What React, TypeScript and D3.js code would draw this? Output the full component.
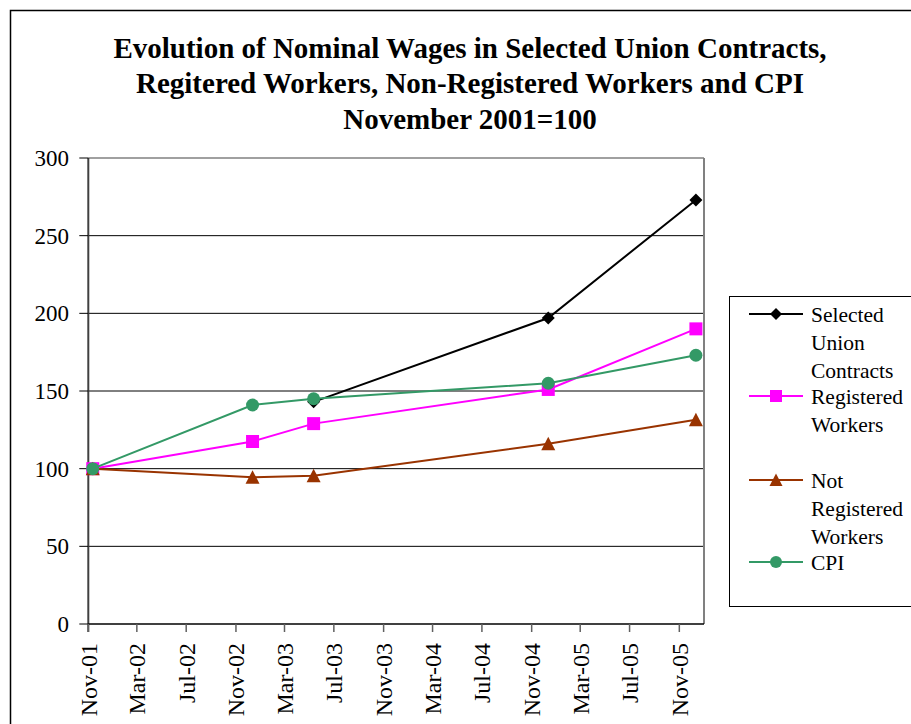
import React from "react";
import * as d3 from "d3";

const titleLines = [
  "Evolution of Nominal Wages in Selected Union Contracts,",
  "Regitered Workers, Non-Registered Workers and CPI",
  "November 2001=100",
];

const pointDates = ["2001-11-12", "2002-12-12", "2003-05-12", "2004-12-12", "2005-12-12"];
const unionValues: (number | null)[] = [null, null, 143, 197, 273];
const registeredValues: (number | null)[] = [100, 117.5, 129, 151, 190];
const notRegisteredValues: (number | null)[] = [100, 94.5, 95.5, 116, 131.5];
const cpiValues: (number | null)[] = [100, 141, 145, 155, 173];

const xTickLabels = [
  "Nov-01", "Mar-02", "Jul-02", "Nov-02", "Mar-03", "Jul-03", "Nov-03",
  "Mar-04", "Jul-04", "Nov-04", "Mar-05", "Jul-05", "Nov-05",
];
const yTicks = [0, 50, 100, 150, 200, 250, 300];

const seriesNames = [
  ["Selected", "Union", "Contracts"],
  ["Registered", "Workers"],
  ["Not", "Registered", "Workers"],
  ["CPI"],
];
const seriesColors = ["#000000", "#FF00FF", "#993300", "#339966"];
const seriesMarkers = ["diamond", "square", "triangle", "circle"];
const seriesValues = [unionValues, registeredValues, notRegisteredValues, cpiValues];

const FONT = "Liberation Serif, Tinos, Times New Roman, Times, DejaVu Serif, serif";

function markerPath(type: string, s: number): string {
  if (type === "diamond") return `M0,${-s}L${s},0L0,${s}L${-s},0Z`;
  if (type === "square") return `M${-s},${-s}H${s}V${s}H${-s}Z`;
  if (type === "triangle") return `M0,${-s - 0.5}L${s + 0.5},${s}L${-s - 0.5},${s}Z`;
  return d3.symbol(d3.symbolCircle, Math.PI * s * s)() || "";
}

export default function App() {
  const parse = d3.timeParse("%Y-%m-%d");
  const parseTick = d3.timeParse("%b-%y");
  const dates = pointDates.map((d) => parse(d) as Date);
  const tickDates = xTickLabels.map((t) => parseTick(t) as Date);

  const left = 88.3;
  const right = 704;
  const top = 158;
  const bottom = 624;

  const x = d3
    .scaleTime()
    .domain([new Date(2001, 10, 1), new Date(2006, 0, 1)])
    .range([left, right]);
  const y = d3.scaleLinear().domain([0, 300]).range([bottom, top]);

  const line = d3
    .line<[Date, number | null]>()
    .defined((d) => d[1] !== null)
    .x((d) => x(d[0]))
    .y((d) => y(d[1] as number));

  const legendX = 749;
  const legendRows = [314, 396, 480, 562];

  return (
    <svg
      width={911}
      height={724}
      style={{ position: "absolute", left: 0, top: 0, background: "#fff", fontFamily: FONT }}
    >
      <rect x={0} y={0} width={911} height={724} fill="#fff" />
      <rect x={10.5} y={10.5} width={910} height={730} fill="none" stroke="#000" strokeWidth={1.5} />

      {titleLines.map((t, i) => (
        <text
          key={i}
          x={470}
          y={57.5 + i * 35.5}
          textAnchor="middle"
          style={{ fontFamily: FONT }}
          fontWeight="bold"
          fontSize={29}
        >
          {t}
        </text>
      ))}

      {yTicks.filter((v) => v > 0 && v < 300).map((v) => (
        <line key={v} x1={left} x2={right} y1={y(v)} y2={y(v)} stroke="#000" strokeWidth={1} />
      ))}
      <line x1={left} x2={right} y1={top} y2={top} stroke="#808080" strokeWidth={1.5} />
      <line x1={right} x2={right} y1={top} y2={bottom} stroke="#808080" strokeWidth={2} />

      <line x1={left} x2={left} y1={top} y2={bottom + 8} stroke="#404040" strokeWidth={2} />
      {yTicks.map((v) => (
        <g key={v}>
          <line x1={left - 9} x2={left} y1={y(v)} y2={y(v)} stroke="#000" strokeWidth={1} />
          <text
            x={69}
            y={y(v)}
            dy="0.35em"
            textAnchor="end"
            style={{ fontFamily: FONT }}
            fontSize={23}
          >
            {v}
          </text>
        </g>
      ))}

      <line x1={left} x2={right} y1={bottom} y2={bottom} stroke="#000" strokeWidth={1.5} />
      {tickDates.map((d, i) => (
        <g key={i}>
          <line x1={x(d)} x2={x(d)} y1={bottom} y2={bottom + 8} stroke="#606060" strokeWidth={1.5} />
          <text
            transform={`translate(${x(d)},${643}) rotate(-90)`}
            dy="0.35em"
            textAnchor="end"
            style={{ fontFamily: FONT }}
            fontSize={24}
          >
            {xTickLabels[i]}
          </text>
        </g>
      ))}

      {seriesValues.map((vals, si) => {
        const pts = dates.map((d, i) => [d, vals[i]] as [Date, number | null]);
        return (
          <g key={si}>
            <path d={line(pts) || ""} fill="none" stroke={seriesColors[si]} strokeWidth={2} />
            {pts
              .filter((p) => p[1] !== null)
              .map((p, i) => (
                <path
                  key={i}
                  transform={`translate(${x(p[0])},${y(p[1] as number)})`}
                  d={markerPath(seriesMarkers[si], 6.5)}
                  fill={seriesColors[si]}
                />
              ))}
          </g>
        );
      })}

      <rect x={729.5} y={296.5} width={200} height={310} fill="#fff" stroke="#000" strokeWidth={1} />
      {seriesNames.map((lines, si) => (
        <g key={si}>
          <line
            x1={legendX}
            x2={legendX + 54}
            y1={legendRows[si]}
            y2={legendRows[si]}
            stroke={seriesColors[si]}
            strokeWidth={2}
          />
          <path
            transform={`translate(${legendX + 27},${legendRows[si]})`}
            d={markerPath(seriesMarkers[si], 6)}
            fill={seriesColors[si]}
          />
          {lines.map((t, li) => (
            <text
              key={li}
              x={811}
              y={legendRows[si] + li * 28.3}
              dy="0.35em"
              style={{ fontFamily: FONT }}
              fontSize={21.5}
            >
              {t}
            </text>
          ))}
        </g>
      ))}
    </svg>
  );
}
